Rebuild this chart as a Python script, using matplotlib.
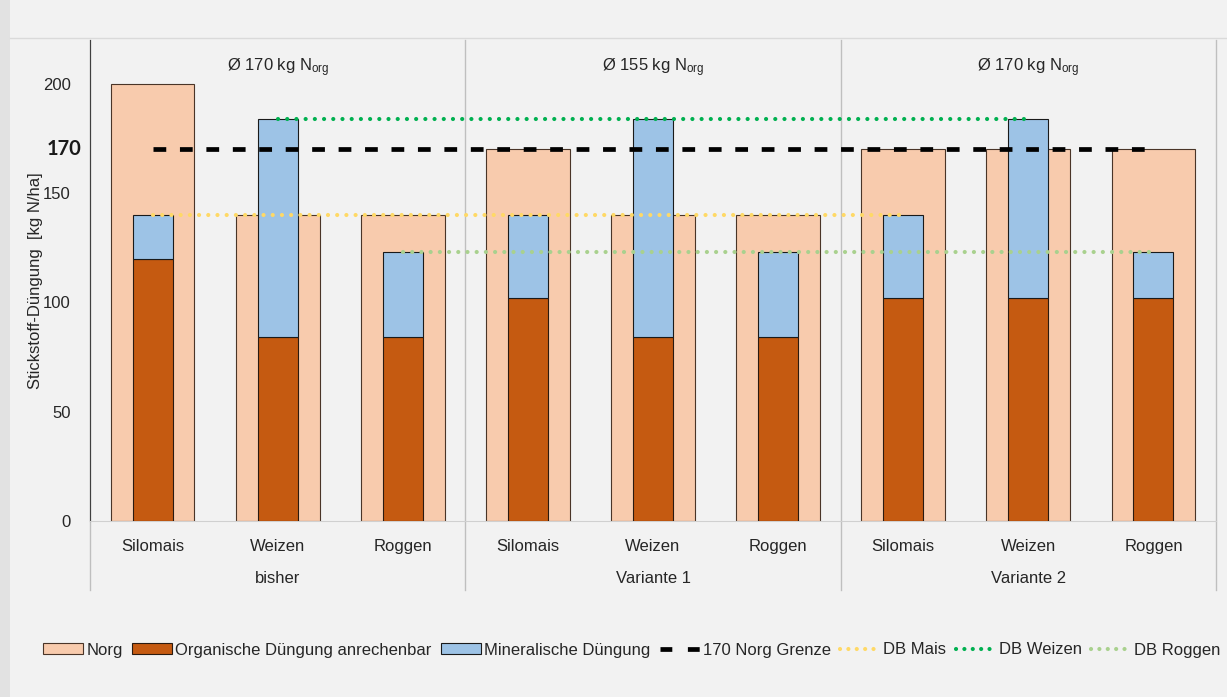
import matplotlib
matplotlib.use("Agg")
from matplotlib import pyplot as plt
from matplotlib.patches import Patch, Rectangle
from matplotlib.lines import Line2D
import matplotlib.transforms as mtransforms

plt.rcParams['font.family'] = ['Liberation Sans', 'DejaVu Sans']
plt.rcParams['mathtext.fontset'] = 'custom'
plt.rcParams['mathtext.rm'] = 'Liberation Sans'
plt.rcParams['mathtext.it'] = 'Liberation Sans'

# daten
kulturen = ["Silomais", "Weizen", "Roggen"] * 3
gruppen = ["bisher", "Variante 1", "Variante 2"]
kopf_werte = ["170", "155", "170"]
norg = [200, 140, 140, 170, 140, 140, 170, 170, 170]
org_anrechenbar = [120, 84, 84, 102, 84, 84, 102, 102, 102]
mineralisch = [20, 100, 39, 38, 100, 39, 38, 82, 21]
grenze = 170
db_mais = 140
db_weizen = 184
db_roggen = 123

c_norg = "#f8cbad"
c_org = "#c55a11"
c_min = "#9dc3e6"
punkt = (0, (0.01, 2.2))   # gepunktete linie

fig = plt.figure(figsize=(12.27, 6.97), dpi=100)
fig.patch.set_facecolor("#f2f2f2")
# rahmen
fig.patches.append(Rectangle((0, 0), 10 / 1227, 1, transform=fig.transFigure,
                             facecolor="#e2e2e2", edgecolor="none", zorder=-1))
fig.lines.append(Line2D([10 / 1227, 1], [1 - 38 / 697, 1 - 38 / 697], transform=fig.transFigure,
                        color="#dadada", lw=1))

ax = fig.add_axes([90 / 1227, 176 / 697, 1126 / 1227, 481 / 697])
ax.set_facecolor("#f2f2f2")
x = list(range(len(kulturen)))

ax.bar(x, norg, width=0.67, color=c_norg, edgecolor="#4a3528", linewidth=0.8, zorder=2)
ax.bar(x, org_anrechenbar, width=0.32, color=c_org, edgecolor="#2a1a10", linewidth=0.8, zorder=3)
ax.bar(x, mineralisch, width=0.32, bottom=org_anrechenbar, color=c_min,
       edgecolor="#1a1a1a", linewidth=0.8, zorder=3)

# linien
ax.plot([0, 8], [grenze, grenze], color="black", lw=3.4, dashes=(2.7, 2.9), zorder=5)
ax.plot([0, 6], [db_mais, db_mais], color="#ffd966", lw=3, linestyle=punkt,
        dash_capstyle="round", zorder=5)
ax.plot([1, 7], [db_weizen, db_weizen], color="#00b050", lw=3, linestyle=punkt,
        dash_capstyle="round", zorder=5)
ax.plot([2, 8], [db_roggen, db_roggen], color="#a9d18e", lw=3, linestyle=punkt,
        dash_capstyle="round", zorder=5)

ax.set_xlim(-0.5, 8.5)
ax.set_ylim(0, 220)
ax.set_yticks([0, 50, 100, 150, 200])
ax.tick_params(axis="y", length=0, pad=14, labelsize=12, labelcolor="#262626")
ax.set_xticks([])
for s in ["top", "right"]:
    ax.spines[s].set_visible(False)
ax.spines["left"].set_color("#404040")
ax.spines["bottom"].set_color("#d0d0d0")
ax.set_ylabel("Stickstoff-Düngung  [kg N/ha]", fontsize=12, color="#262626")
ax.yaxis.set_label_coords(-47 / 1126, 0.5)

ax.text(-0.57, 170, "170", ha="right", va="center", fontsize=14.5, fontweight="bold",
        family=["Lato", "DejaVu Sans"], color="#1a1a1a")

trans = mtransforms.blended_transform_factory(ax.transData, ax.transAxes)
for i, k in enumerate(kulturen):
    ax.text(i, -0.052, k, ha="center", va="center", fontsize=12, color="#262626", transform=trans)
for g, name in enumerate(gruppen):
    ax.text(3 * g + 1, -0.119, name, ha="center", va="center", fontsize=12,
            color="#262626", transform=trans)
    ax.text(3 * g + 1, 0.942, "Ø " + kopf_werte[g] + r" kg N$_{\mathrm{org}}$", ha="center",
            va="center", fontsize=12, color="#262626", transform=trans)
for xs in [-0.5, 2.5, 5.5, 8.5]:
    ax.plot([xs, xs], [-0.143, 1.0], color="#bfbfbf", lw=1, transform=trans, clip_on=False, zorder=1)

legende_punkt = (0, (0.01, 2.0))
handles = [
    Patch(facecolor=c_norg, edgecolor="#4a3528", linewidth=0.8),
    Patch(facecolor=c_org, edgecolor="#2a1a10", linewidth=0.8),
    Patch(facecolor=c_min, edgecolor="#1a1a1a", linewidth=0.8),
    Line2D([], [], color="black", lw=3.4, dashes=(2.5, 3.3)),
    Line2D([], [], color="#ffd966", lw=3, linestyle=legende_punkt, dash_capstyle="round"),
    Line2D([], [], color="#00b050", lw=3, linestyle=legende_punkt, dash_capstyle="round"),
    Line2D([], [], color="#a9d18e", lw=3, linestyle=legende_punkt, dash_capstyle="round"),
]
labels = ["Norg", "Organische Düngung anrechenbar", "Mineralische Düngung",
          "170 Norg Grenze", "DB Mais", "DB Weizen", "DB Roggen"]
fig.legend(handles, labels, loc="center", bbox_to_anchor=(0.515, 47 / 697), ncol=7,
           frameon=False, fontsize=12, handlelength=2.4, handleheight=0.6,
           handletextpad=0.2, columnspacing=0.55, labelcolor="#262626")

fig.savefig("out.png", dpi=100, facecolor=fig.get_facecolor())
